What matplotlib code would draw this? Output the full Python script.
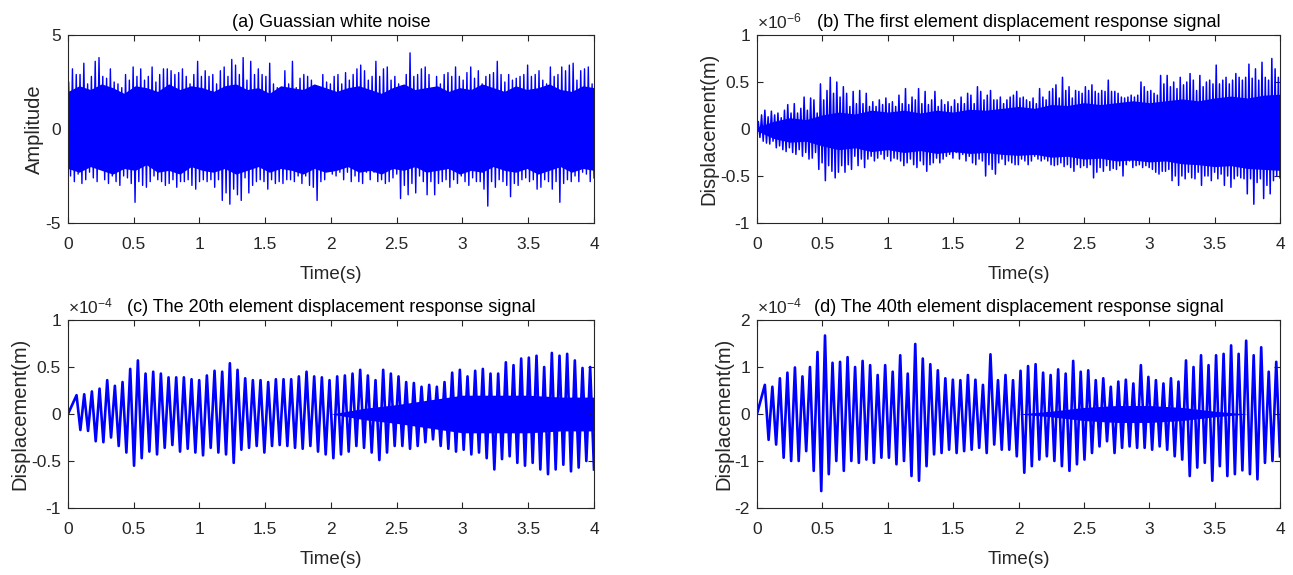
import numpy as np
import matplotlib
matplotlib.use("Agg")
import matplotlib.pyplot as plt
from matplotlib.ticker import FormatStrFormatter

plt.rcParams['font.family'] = ['Liberation Sans', 'DejaVu Sans']
plt.rcParams['axes.unicode_minus'] = False
plt.rcParams['mathtext.default'] = 'regular'

# (a) Gaussian white noise: spike extremes, 0-4 s
a_hi = [2.5, 3.2, 2.9, 2.9, 3.5, 2.4, 2.8, 3.6, 3.8, 2.8, 2.7, 3.2, 2.5, 2.4, 2.2, 2.9, 2.6, 3.3,
        2.8, 3.2, 2.6, 2.8, 3.3, 2.5, 2.9, 3.2, 3.2, 3.1, 2.9, 3.0, 3.2, 2.8, 2.4, 2.9, 3.6, 2.8,
        3.1, 2.8, 2.9, 2.4, 3.1, 3.3, 2.8, 3.7, 3.4, 2.9, 3.8, 2.6, 3.6, 2.9, 3.2, 2.9, 2.8, 3.5,
        2.4, 2.2, 2.1, 3.1, 2.4, 3.6, 2.2, 2.7, 2.9, 2.8, 2.6, 2.2, 2.1, 2.9, 2.5, 2.4,
        2.8, 2.9, 2.4, 3.0, 2.6, 2.9, 3.2, 3.4, 3.1, 2.6, 2.8, 3.6, 2.8, 3.2, 3.3, 2.6, 2.8, 2.4,
        2.2, 2.9, 4.05, 2.8, 2.9, 3.2, 3.3, 2.9, 2.0, 2.8, 2.4, 2.9, 3.0, 2.8, 3.3, 2.8, 2.6, 3.0,
        3.3, 2.7, 3.1, 2.4, 2.8, 2.9, 3.0, 3.6, 2.9, 2.5, 2.9, 2.6, 2.7, 2.8, 2.9, 3.4, 2.8, 2.9,
        3.1, 2.6, 2.4, 3.3, 2.8, 2.9, 3.3, 3.1, 3.4, 3.5, 2.6, 3.1, 3.2, 3.3, 2.4]
a_lo = [-2.5, -2.8, -2.4, -2.9, -2.7, -2.3, -2.6, -2.8, -2.1, -2.7, -2.9, -2.5, -2.8, -3.0, -2.5,
        -2.6,
        -2.9, -3.9, -2.8, -3.0, -3.1, -2.8, -2.5, -2.7, -2.8, -3.0, -2.9, -2.7, -3.1, -2.8, -2.8,
        -2.7, -3.0, -3.2, -2.8, -2.7, -2.8, -2.7, -3.1, -2.7, -3.8, -3.4, -4.0, -3.2, -3.5, -3.8,
        -2.6,
        -3.4, -3.0, -2.8, -2.7, -2.8, -3.2, -2.7, -2.9, -2.8, -2.9, -2.7, -2.7, -2.8, -2.5, -2.9,
        -2.5, -3.0, -3.1, -3.8, -2.8, -2.7, -2.2, -2.4,
        -2.5, -2.3, -2.7, -2.3, -2.8, -2.5, -2.8, -2.9, -2.3, -2.7, -2.3, -2.8, -2.7, -2.9, -2.8,
        -2.6, -2.4,
        -3.7, -3.0, -3.5, -2.9, -3.4, -2.5, -2.8, -3.5, -2.8, -3.5, -2.9, -2.8, -2.7, -3.1, -2.7,
        -2.9, -2.5,
        -2.8, -3.0, -2.6, -2.8, -2.8, -3.2, -4.1, -2.8, -3.1, -2.7, -2.8, -3.0, -3.6, -2.9, -3.0,
        -2.7, -2.6,
        -2.8, -2.7, -3.2, -3.1, -2.7, -2.8, -3.2, -2.8, -3.9, -2.9, -2.7, -2.8, -2.5, -2.8, -2.3,
        -2.4, -2.8, -2.6]
# edge of the solid part of the noise band
a_core_hi = [2.0, 2.3, 2.1, 2.4, 2.2, 1.9, 2.3, 2.2, 2.0, 2.4, 2.1, 2.3, 2.2, 2.0, 2.3, 2.4,
             2.1, 2.2, 1.9, 2.3, 2.2, 2.1, 2.4, 2.2, 2.0, 2.2, 2.3, 2.1, 1.9, 2.2, 2.4, 2.1,
             2.2, 2.3, 2.0, 2.2, 2.1, 2.4, 2.2, 2.0, 2.3, 2.1, 2.2, 2.4, 2.1, 2.0, 2.3, 2.2]
a_core_lo = [-2.1, -2.3, -2.0, -2.2, -2.4, -2.1, -2.2, -1.9, -2.3, -2.2, -2.4, -2.0, -2.2, -2.3,
             -2.1, -2.4, -2.2, -2.0, -2.3, -2.1, -2.2, -2.4, -2.1, -2.3, -2.2, -2.0, -2.3, -2.2,
             -2.4, -2.1, -2.2, -2.0, -2.3, -2.2, -2.1, -2.4, -2.2, -2.3, -2.0, -2.2, -2.3, -2.1,
             -2.4, -2.2, -2.0, -2.3, -2.1, -2.2]

# (b) first element, x1e-6 m
b_hi = [0.08, 0.15, 0.2, 0.13, 0.19, 0.15, 0.17, 0.12, 0.2, 0.26, 0.17, 0.27, 0.17, 0.22, 0.34,
        0.2, 0.33, 0.31, 0.17, 0.48, 0.31, 0.41, 0.55, 0.38, 0.5, 0.34, 0.45, 0.38, 0.24, 0.4,
        0.27, 0.41, 0.27, 0.38, 0.24, 0.29, 0.24, 0.31, 0.26, 0.33, 0.27, 0.29, 0.24, 0.36, 0.27,
        0.43, 0.26, 0.34, 0.31, 0.43, 0.27, 0.4, 0.26, 0.31, 0.4, 0.24, 0.31, 0.26, 0.29, 0.24,
        0.31, 0.27, 0.34, 0.27, 0.38, 0.36, 0.27, 0.45, 0.4, 0.31, 0.36, 0.41, 0.31, 0.31, 0.34,
        0.27, 0.31, 0.34, 0.36,
        0.4, 0.33, 0.34, 0.31, 0.29, 0.33, 0.27, 0.43, 0.34, 0.31, 0.4, 0.43, 0.47, 0.33, 0.55,
        0.41, 0.45, 0.33, 0.41, 0.4, 0.38, 0.45, 0.41, 0.47, 0.4, 0.38, 0.41, 0.4, 0.52, 0.4,
        0.4, 0.38, 0.34, 0.33, 0.34, 0.36, 0.34, 0.36, 0.5, 0.45, 0.4, 0.41, 0.38, 0.36, 0.57,
        0.48, 0.57, 0.45, 0.5, 0.43, 0.55, 0.47, 0.5, 0.59, 0.52, 0.41, 0.57, 0.45, 0.5, 0.52,
        0.48, 0.68, 0.48, 0.52, 0.55, 0.48, 0.52, 0.59, 0.55, 0.52, 0.55, 0.69, 0.54, 0.64, 0.52,
        0.71, 0.55, 0.52, 0.75, 0.64, 0.55]
b_lo = [-0.09, -0.13, -0.15, -0.16, -0.13, -0.2, -0.18, -0.22, -0.24, -0.2, -0.25, -0.27, -0.22,
        -0.29, -0.25, -0.32, -0.31, -0.25, -0.43, -0.36, -0.55, -0.39, -0.45, -0.52, -0.46, -0.39,
        -0.46, -0.38, -0.43, -0.29, -0.39, -0.32, -0.41, -0.32, -0.29, -0.34, -0.31, -0.27, -0.32,
        -0.29, -0.34, -0.31, -0.32, -0.34, -0.39, -0.36, -0.32, -0.38, -0.41, -0.34, -0.38, -0.45,
        -0.38, -0.36, -0.31, -0.36, -0.32, -0.29, -0.27, -0.31, -0.25, -0.32, -0.27, -0.34, -0.29,
        -0.36, -0.38, -0.32, -0.34, -0.5, -0.38, -0.43, -0.48, -0.36, -0.32, -0.38, -0.34, -0.36,
        -0.38,
        -0.38, -0.32, -0.34, -0.38, -0.34, -0.29, -0.32, -0.34, -0.32, -0.34, -0.38, -0.39, -0.38,
        -0.36, -0.4,
        -0.38, -0.41, -0.45, -0.38, -0.41, -0.39, -0.41, -0.38, -0.52, -0.46, -0.41, -0.45, -0.39,
        -0.44, -0.42,
        -0.43, -0.39, -0.5, -0.38, -0.34, -0.41, -0.39, -0.38, -0.41, -0.39, -0.41, -0.43, -0.46,
        -0.48, -0.45,
        -0.45, -0.43, -0.55, -0.5, -0.6, -0.5, -0.53, -0.46, -0.52, -0.53, -0.46, -0.6, -0.5,
        -0.5, -0.55,
        -0.46, -0.53, -0.48, -0.6, -0.5, -0.62, -0.53, -0.5, -0.52, -0.53, -0.69, -0.53, -0.8,
        -0.57, -0.53, -0.74, -0.6, -0.69, -0.55, -0.5, -0.52]
b_core_hi = [0.02, 0.08, 0.12, 0.1, 0.15, 0.18, 0.16, 0.2, 0.18, 0.2, 0.17, 0.2, 0.18, 0.21,
             0.2, 0.22, 0.24, 0.22, 0.26, 0.25, 0.28, 0.26, 0.28, 0.3, 0.28, 0.3, 0.32, 0.3,
             0.33, 0.35, 0.33, 0.36, 0.37]
b_core_lo = [-0.02, -0.1, -0.14, -0.13, -0.18, -0.22, -0.2, -0.24, -0.22, -0.25, -0.23, -0.26,
             -0.24, -0.26, -0.25, -0.27, -0.28, -0.27, -0.3, -0.29, -0.32, -0.31, -0.34, -0.33,
             -0.35, -0.34, -0.37, -0.38, -0.4, -0.39, -0.42, -0.43, -0.44]

# (c) 20th element, x1e-4 m: cycle peaks and troughs
c_hi = [0.20, 0.21, 0.24, 0.27, 0.36, 0.30, 0.34, 0.48, 0.57, 0.43, 0.45, 0.43, 0.39, 0.39, 0.39,
        0.37, 0.36, 0.41, 0.46, 0.45, 0.54, 0.47, 0.38, 0.36, 0.36, 0.34, 0.37, 0.37, 0.37, 0.40,
        0.45, 0.40, 0.39, 0.36, 0.40, 0.41, 0.43, 0.47, 0.41, 0.36, 0.47, 0.43, 0.40, 0.34, 0.33,
        0.29, 0.31, 0.29, 0.34, 0.44, 0.47, 0.40, 0.46, 0.48, 0.43, 0.43, 0.55, 0.52, 0.59, 0.60,
        0.62, 0.50, 0.65, 0.62, 0.64, 0.57, 0.49, 0.50]
c_lo = [-0.17, -0.18, -0.29, -0.30, -0.25, -0.34, -0.41, -0.55, -0.47, -0.40, -0.43, -0.36, -0.33,
        -0.40, -0.37, -0.41, -0.44, -0.36, -0.41, -0.43, -0.52, -0.38, -0.36, -0.34, -0.41, -0.34,
        -0.33, -0.34, -0.36, -0.37, -0.34, -0.40, -0.43, -0.47, -0.43, -0.40, -0.34, -0.36, -0.41,
        -0.49, -0.41, -0.34, -0.34, -0.37, -0.34, -0.30, -0.27, -0.34, -0.37, -0.40, -0.38, -0.43,
        -0.41, -0.47, -0.59, -0.48, -0.45, -0.52, -0.55, -0.52, -0.59, -0.64, -0.59, -0.54, -0.61,
        -0.57, -0.50, -0.59]
# dense high-frequency band around zero in the later part
c_core = [0.0, 0.0, 0.0, 0.0, 0.0, 0.0, 0.0, 0.0, 0.0, 0.06, 0.1, 0.15, 0.2, 0.2, 0.2,
          0.18, 0.18]

# (d) 40th element, x1e-4 m
d_hi = [0.62, 0.58, 0.76, 0.88, 0.99, 0.80, 1.00, 1.32, 1.67, 1.09, 1.11, 1.21, 1.00, 1.13, 1.04,
        0.83, 1.04, 0.90, 1.25, 0.86, 1.49, 1.18, 1.06, 0.93, 0.76, 0.73, 0.72, 0.83, 0.73, 0.62,
        1.27, 0.72, 0.83, 0.72, 0.92, 1.02, 1.06, 0.88, 0.83, 0.95, 0.86, 1.13, 0.90, 0.93, 0.72,
        0.76, 0.58, 0.69, 0.73, 0.65, 1.04, 0.79, 0.72, 0.65, 0.76, 0.69, 1.14, 1.00, 1.25, 1.04,
        1.25, 1.28, 1.46, 1.28, 1.56, 1.25, 1.42, 0.90, 1.11]
d_lo = [-0.55, -0.65, -0.93, -1.00, -1.00, -0.79, -1.21, -1.64, -1.28, -1.00, -1.21, -1.00, -1.04,
        -0.97, -1.04, -0.93, -0.93, -1.07, -1.00, -1.32, -1.42, -1.11, -0.86, -0.83, -0.76, -0.83,
        -0.79, -0.76, -0.72, -0.83, -0.65, -0.76, -0.76, -0.90, -1.25, -1.11, -0.97, -0.90, -1.00,
        -1.11, -1.21, -1.07, -0.97, -0.83, -0.69, -0.58, -0.83, -0.72, -0.69, -0.72, -0.72, -0.76,
        -0.69, -0.76, -0.90, -0.97, -1.32, -1.14, -1.04, -1.42, -1.11, -1.32, -1.28, -1.20, -1.28,
        -1.39, -1.04, -1.00, -0.90]
d_core = [0.0, 0.0, 0.0, 0.0, 0.0, 0.0, 0.0, 0.0, 0.0, 0.06, 0.14, 0.18, 0.18, 0.14,
          0.06, 0.0, 0.0]

titles = ['(a) Guassian white noise',
          '(b) The first element displacement response signal',
          '(c) The 20th element displacement response signal',
          '(d) The 40th element displacement response signal']
ylabels = ['Amplitude', 'Displacement(m)', 'Displacement(m)', 'Displacement(m)']
exponents = [None, '-6', '-4', '-4']
ylims = [(-5, 5), (-1, 1), (-1, 1), (-2, 2)]
yticks = [[-5, 0, 5], [-1, -0.5, 0, 0.5, 1], [-1, -0.5, 0, 0.5, 1], [-2, -1, 0, 1, 2]]

AX_COLOR = '#262626'
BLUE = '#0000ff'
W, H = 1293, 575
boxes = [(68, 35, 594, 223), (757, 35, 1280, 223), (68, 320, 594, 508), (757, 320, 1280, 508)]


def zigzag(hi, lo, t_start):
    # alternate peak / trough values along the time axis, starting from rest
    n = min(len(hi), len(lo))
    y = np.empty(2 * n)
    y[0::2] = hi[:n]
    y[1::2] = lo[:n]
    t = np.linspace(t_start, 4.0, 2 * n)
    return np.concatenate([[0.0], t]), np.concatenate([[0.0], y])


fig = plt.figure(figsize=(W / 100, H / 100), dpi=100)
axes = []
for x0, y0, x1, y1 in boxes:
    axes.append(fig.add_axes([x0 / W, 1 - y1 / H, (x1 - x0) / W, (y1 - y0) / H]))

signals = [(a_hi, a_lo, 0.005), (b_hi, b_lo, 0.01), (c_hi, c_lo, 0.065), (d_hi, d_lo, 0.06)]
cores = [(a_core_hi, a_core_lo), (b_core_hi, b_core_lo),
         (c_core, [-v for v in c_core]), (d_core, [-v for v in d_core])]
widths = [1.0, 1.1, 1.9, 1.9]

for i, ax in enumerate(axes):
    hi, lo, t0 = signals[i]
    t, y = zigzag(hi, lo, t0)
    ch, cl = cores[i]
    tc = np.linspace(0, 4, len(ch))
    ax.fill_between(tc, cl, ch, color=BLUE, lw=0)
    ax.plot(t, y, color=BLUE, lw=widths[i])

    ax.set_xlim(0, 4)
    ax.set_ylim(*ylims[i])
    ax.set_xticks(np.arange(0, 4.01, 0.5))
    ax.set_yticks(yticks[i])
    ax.xaxis.set_major_formatter(FormatStrFormatter('%g'))
    ax.yaxis.set_major_formatter(FormatStrFormatter('%g'))
    ax.tick_params(direction='in', length=4, width=0.8, top=True, right=True,
                   labelsize=12.5, colors=AX_COLOR)
    ax.tick_params(axis='x', pad=10)
    ax.tick_params(axis='y', pad=5)
    for s in ax.spines.values():
        s.set_linewidth(0.8)
        s.set_color(AX_COLOR)
    ax.set_xlabel('Time(s)', fontsize=13.5, color=AX_COLOR, labelpad=10)
    ax.set_ylabel(ylabels[i], fontsize=14.5, color=AX_COLOR, labelpad=1)
    ax.set_title(titles[i], fontsize=13, color='black', pad=6)
    if exponents[i]:
        ax.text(0.0, 1.02, r'$\times$10$^{%s}$' % exponents[i], transform=ax.transAxes,
                fontsize=12.5, color=AX_COLOR, ha='left', va='bottom')

fig.savefig('out.png', dpi=100)
